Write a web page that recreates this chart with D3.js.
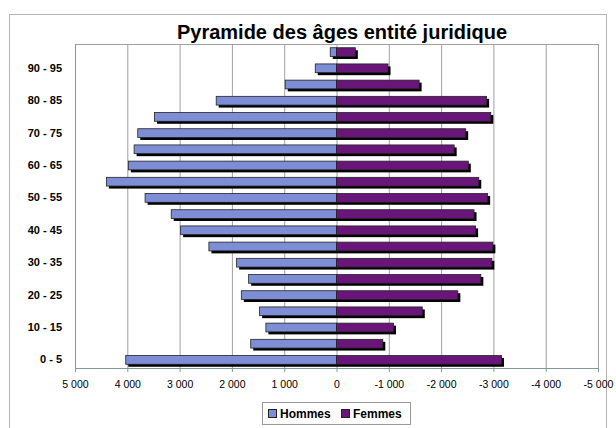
<!DOCTYPE html>
<html>
<head>
<meta charset="utf-8">
<script src="https://cdn.jsdelivr.net/npm/d3@7"></script>
<style>
  body { margin: 0; background: #fff; }
  svg { display: block; font-family: "Liberation Sans", Arial, sans-serif; }
</style>
</head>
<body>
<div id="d3-container"></div>
<script>
// age groups, bottom to top
const ages = ["0 - 5", "5 - 10", "10 - 15", "15 - 20", "20 - 25", "25 - 30", "30 - 35", "35 - 40",
  "40 - 45", "45 - 50", "50 - 55", "55 - 60", "60 - 65", "65 - 70", "70 - 75", "75 - 80",
  "80 - 85", "85 - 90", "90 - 95", "95 - 100"];
const hommes = [4030, 1640, 1350, 1470, 1820, 1680, 1910, 2440, 2980, 3160,
  3660, 4400, 3980, 3870, 3800, 3480, 2300, 980, 406, 120];
const femmes = [-3155, -885, -1090, -1640, -2320, -2760, -2970, -2990, -2660, -2630,
  -2890, -2720, -2520, -2250, -2470, -2950, -2870, -1580, -985, -360];
const xTicks = [5000, 4000, 3000, 2000, 1000, 0, -1000, -2000, -3000, -4000, -5000];
const series = [
  { name: "Hommes", values: hommes, color: "#7d8ed7" },
  { name: "Femmes", values: femmes, color: "#6a157a" }
];

const width = 616;
const height = 428;
const margin = { top: 44, right: 18, bottom: 60, left: 75 };

const svg = d3.select("#d3-container")
  .append("svg")
  .attr("width", width)
  .attr("height", height);

// outer chart frame
svg.append("rect")
  .attr("x", 9.5).attr("y", 14.5)
  .attr("width", 597).attr("height", 420)
  .attr("fill", "none").attr("stroke", "#b4b4b4");

svg.append("text")
  .attr("x", 342).attr("y", 39)
  .attr("text-anchor", "middle")
  .attr("font-size", "20px").attr("font-weight", "bold")
  .text("Pyramide des âges entité juridique");

const x = d3.scaleLinear()
  .domain([5000, -5000])
  .range([margin.left, width - margin.right]);

const y = d3.scaleBand()
  .domain(ages.slice().reverse())
  .range([margin.top, height - margin.bottom])
  .paddingInner(0.46).paddingOuter(0.23);

const loc = d3.formatLocale({ decimal: ",", thousands: " ", grouping: [3], currency: ["", ""], minus: "-" });
const fmt = loc.format(",");

// grid
svg.append("g")
  .selectAll("line")
  .data(xTicks)
  .join("line")
    .attr("x1", d => x(d) + 0.5).attr("x2", d => x(d) + 0.5)
    .attr("y1", margin.top).attr("y2", height - margin.bottom)
    .attr("stroke", "#a0a0a0");

svg.append("line")
  .attr("x1", margin.left).attr("x2", width - margin.right)
  .attr("y1", margin.top + 0.5).attr("y2", margin.top + 0.5)
  .attr("stroke", "#a0a0a0");

// bars with drop shadow
series.forEach(s => {
  const g = svg.append("g");
  const rows = ages.map((a, i) => ({ age: a, v: s.values[i] }));
  g.selectAll("rect.shadow")
    .data(rows)
    .join("rect")
      .attr("class", "shadow")
      .attr("x", d => Math.min(x(d.v), x(0)) + 2.5)
      .attr("y", d => y(d.age) + 2.5)
      .attr("width", d => Math.abs(x(d.v) - x(0)))
      .attr("height", y.bandwidth())
      .attr("fill", "#000");
  g.selectAll("rect.bar")
    .data(rows)
    .join("rect")
      .attr("class", "bar")
      .attr("x", d => Math.min(x(d.v), x(0)))
      .attr("y", d => y(d.age))
      .attr("width", d => Math.abs(x(d.v) - x(0)))
      .attr("height", y.bandwidth())
      .attr("fill", s.color)
      .attr("stroke", "#222")
      .attr("stroke-width", 0.8);
});

function xAxis(g) {
  g.attr("transform", `translate(0,${height - margin.bottom})`)
    .call(d3.axisBottom(x).tickValues(xTicks).tickFormat(fmt).tickSize(4).tickPadding(9))
    .attr("font-size", "10.5px")
    .attr("font-family", null);
  g.select(".domain").attr("stroke", "#7f9a9a");
  g.selectAll(".tick line").attr("stroke", "#7f9a9a");
}

function yAxis(g) {
  g.attr("transform", `translate(${margin.left},0)`)
    .call(d3.axisLeft(y).tickValues(ages.filter((a, i) => i % 2 === 0)).tickSize(0).tickPadding(13))
    .attr("font-size", "11px")
    .attr("font-weight", "bold")
    .attr("font-family", null);
  g.select(".domain").attr("stroke", "#7f9a9a");
}

svg.append("g").call(xAxis);
svg.append("g").call(yAxis);

// legend
const legend = svg.append("g").attr("transform", "translate(262,402)");
legend.append("rect")
  .attr("x", 0.5).attr("y", 0.5).attr("width", 148).attr("height", 22)
  .attr("fill", "#fff").attr("stroke", "#9a9a9a");
const items = legend.selectAll("g.item")
  .data(series)
  .join("g")
    .attr("class", "item")
    .attr("transform", (d, i) => `translate(${i === 0 ? 6 : 79},0)`);
items.append("rect")
  .attr("x", 0.5).attr("y", 7.5).attr("width", 8).attr("height", 8)
  .attr("fill", d => d.color).attr("stroke", "#222");
items.append("text")
  .attr("x", 12).attr("y", 16)
  .attr("font-size", "12px").attr("font-weight", "bold")
  .text(d => d.name);
</script>
</body>
</html>
